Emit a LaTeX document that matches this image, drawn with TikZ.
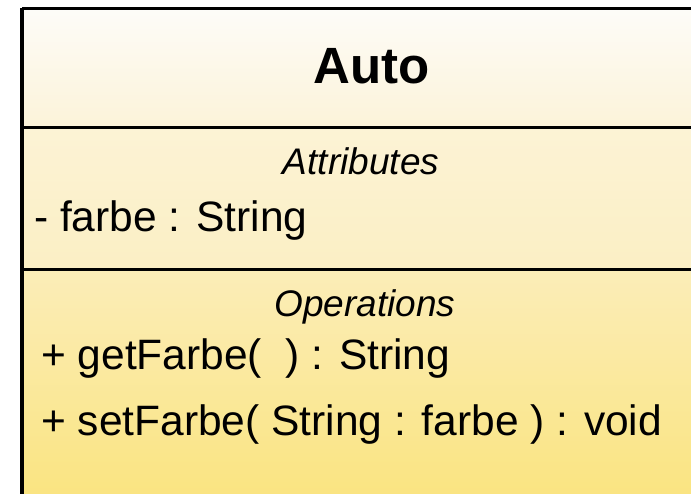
\documentclass[tikz,border=0pt]{standalone}
\usepackage{fontspec}
\setmainfont{Liberation Sans}
\definecolor{hdrTop}{RGB}{253,252,248}
\definecolor{hdrBot}{RGB}{252,243,217}
\definecolor{attTop}{RGB}{252,243,213}
\definecolor{attBot}{RGB}{251,239,196}
\definecolor{opsTop}{RGB}{251,237,184}
\definecolor{opsBot}{RGB}{250,228,128}
\begin{document}
\begin{tikzpicture}[x=1pt,y=-1pt,
  memb/.style={anchor=base west, inner sep=0pt, font=\fontsize{42.5}{50}\selectfont},
  hdr/.style={anchor=base, inner sep=0pt, font=\itshape\fontsize{37}{44}\selectfont},
  ttl/.style={anchor=base, inner sep=0pt, font=\bfseries\fontsize{51}{60}\selectfont},
  sepline/.style={line width=3.4pt},
  border/.style={line width=4pt}]
\useasboundingbox (0,0) rectangle (691,494);
\clip (0,0) rectangle (691,494);
\fill[white] (0,0) rectangle (691,494);
% compartments
\shade[top color=hdrTop, bottom color=hdrBot] (22,8.5) rectangle (720,127.5);
\shade[top color=attTop, bottom color=attBot] (22,127.5) rectangle (720,269.5);
\shade[top color=opsTop, bottom color=opsBot] (22,269.5) rectangle (720,500);
% frame and separators
\coordinate (tl) at (22,8.5);
\coordinate (tr) at (720,8.5);
\coordinate (bl) at (22,520);
\coordinate (s1l) at (22,127.5);
\coordinate (s1r) at (720,127.5);
\coordinate (s2l) at (22,269.5);
\coordinate (s2r) at (720,269.5);
\draw[sepline] (tl) -- (tr);
\draw[sepline] (s1l) -- (s1r);
\draw[sepline] (s2l) -- (s2r);
\draw[border] (tl) -- (bl);
% texts
\node[ttl] (title) at (371.5,84) {Auto};
\node[hdr] (attrhdr) at (361,175) {Attributes};
\node[memb] (attr1) at (34,232) {- farbe : String};
\node[hdr] (opshdr) at (365,317) {Operations};
\node[memb] (op1) at (41,370) {+ getFarbe(\ \ ) : String};
\node[memb] (op2) at (41,435) {+ setFarbe( String : farbe ) : void};
\end{tikzpicture}
\end{document}
